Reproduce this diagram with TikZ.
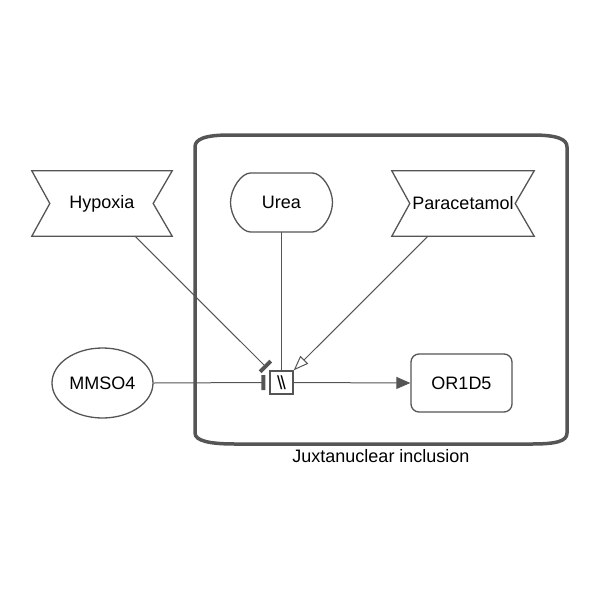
\documentclass[tikz,border=0pt]{standalone}
\usepackage{fontspec}
\setmainfont{Liberation Sans}
\usetikzlibrary{arrows.meta,shapes.geometric}
\definecolor{ln}{HTML}{555555}
\begin{document}
\begin{tikzpicture}[x=1pt,y=-1pt,
  every node/.style={font=\fontsize{18}{21}\selectfont, text=black, inner sep=0pt},
  edge/.style={draw=ln, line width=1pt},
  nodeline/.style={draw=ln, line width=1.3pt},
  comp/.style={draw=ln, line width=3.5pt},
  inhib/.style={edge, -{Bar[width=15pt,line width=4pt]}},
  stim/.style={edge, -{Triangle[open,length=15pt,width=11pt,line width=1pt]}},
  prod/.style={edge, -{Triangle[length=14pt,width=12pt]}},
]
\useasboundingbox (0,0) rectangle (600,600);
% compartment
\draw[comp] (195,147) .. controls (195,139) and (205,135) .. (230,135) -- (532,135)
  .. controls (557,135) and (567,139) .. (567,147) -- (567,433)
  .. controls (567,441) and (557,444) .. (532,444) -- (235,444)
  .. controls (210,444) and (195,441) .. (195,433) -- cycle;
\node (complabel) at (381,456) {Juxtanuclear inclusion};

% Hypoxia
\node[minimum width=140pt, minimum height=65pt] (hyp) at (102,203.5) {Hypoxia};
\draw[nodeline] (hyp.north west) -- (hyp.north east) -- ([xshift=-19pt]hyp.east)
  -- (hyp.south east) -- (hyp.south west) -- ([xshift=18pt]hyp.west) -- cycle;
% Paracetamol
\node[minimum width=142pt, minimum height=65pt] (para) at (463,203.5) {Paracetamol};
\draw[nodeline] (para.north west) -- (para.north east) -- ([xshift=-19pt]para.east)
  -- (para.south east) -- (para.south west) -- ([xshift=18pt]para.west) -- cycle;
% Urea
\node[minimum width=102pt, minimum height=59pt] (urea) at (281.5,202.5) {Urea};
\draw[nodeline, shift={(urea.center)}] (-31,-29.5) -- (31,-29.5)
  .. controls (40,-29.5) and (51,-14) .. (51,0)
  .. controls (51,14) and (40,29.5) .. (31,29.5) -- (-31,29.5)
  .. controls (-40,29.5) and (-51,14) .. (-51,0)
  .. controls (-51,-14) and (-40,-29.5) .. (-31,-29.5) -- cycle;
% MMSO4
\node[nodeline, ellipse, minimum width=101pt, minimum height=70pt] (mm) at (102.5,383) {MMSO4};
% OR1D5
\node[nodeline, minimum width=101pt, minimum height=58pt, rounded corners=8pt] (or) at (461.5,383) {OR1D5};
% process
\node[nodeline, fill=white, minimum size=23pt] (proc) at (281.5,382.5) {\fontsize{19}{19}\selectfont\textbackslash\kern-2pt\textbackslash};

% connectors
\coordinate (hypout) at ([xshift=33pt]hyp.south);
\coordinate (paraout) at ([xshift=-35pt]para.south);
\draw[inhib] (hypout) -- ([shift={(-2.5,-2.5)}]proc.north west);
\draw[inhib] (mm.east) -- ([xshift=-4pt]proc.west);
\draw[edge] (urea.south) -- (proc.north);
\draw[stim] (paraout) -- (proc.north east);
\draw[prod] (proc.east) -- (or.west);
\end{tikzpicture}
\end{document}
